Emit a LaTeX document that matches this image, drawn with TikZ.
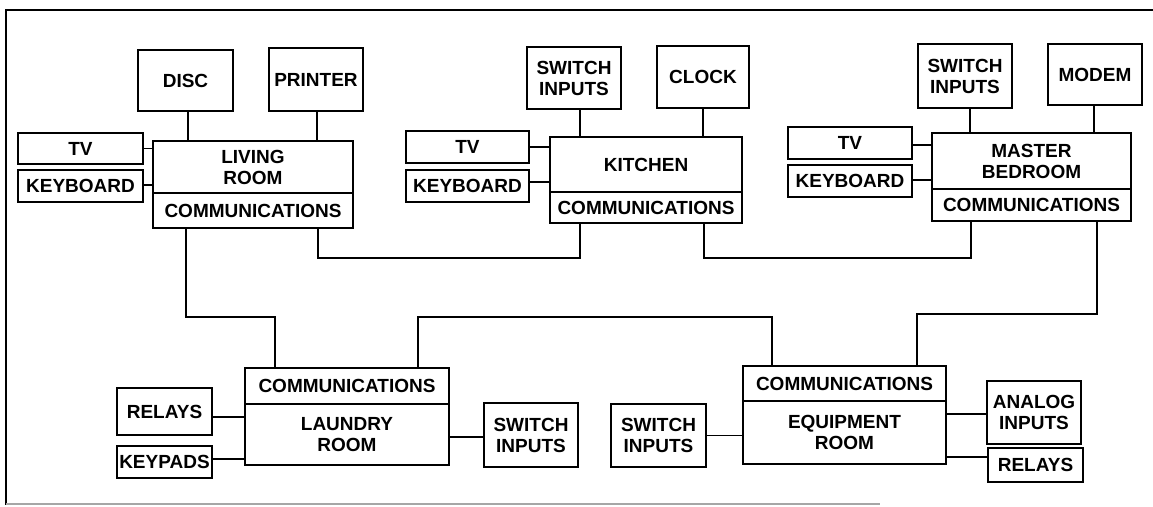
\documentclass[tikz,border=0pt]{standalone}
\usepackage{fontspec}
\setmainfont{Liberation Sans}
\begin{document}
\tikzset{
  box/.style={draw, line width=1.8pt, inner sep=0pt, outer sep=0pt, align=center,
    font=\bfseries\fontsize{19}{21}\selectfont},
  wire/.style={line width=1.8pt},
}
\begin{tikzpicture}[x=1pt,y=-1pt,line join=miter]
\useasboundingbox (0,0) rectangle (1153,506);
% frame
\draw[line width=2.6pt] (1153,10) -- (6,10) -- (6,505);
\draw[line width=1.6pt, black!35] (6,504) -- (880,504);

% ---------------- Living room
\node[box, minimum width=95pt, minimum height=61pt] (disc) at (185.5,80.5) {DISC};
\node[box, minimum width=94pt, minimum height=63pt] (printer) at (316,79.5) {PRINTER};
\node[box, minimum width=125pt, minimum height=31pt] (tv1) at (80.5,148.5) {TV};
\node[box, minimum width=125pt, minimum height=32pt] (kb1) at (80.5,186) {KEYBOARD};
\node[box, minimum width=200pt, minimum height=52pt] (lr) at (253,167) {LIVING\\ROOM};
\node[box, minimum width=200pt, minimum height=35pt] (lrc) at (253,210.5) {COMMUNICATIONS};
\draw[wire] ([xshift=2.5pt]disc.south) -- ([xshift=2.5pt]disc.south |- lr.north);
\draw[wire] ([xshift=1pt]printer.south) -- ([xshift=1pt]printer.south |- lr.north);
\draw[wire] (tv1.east) -- (tv1.east -| lr.west);
\draw[wire] ([yshift=1pt]kb1.east) coordinate (k1) -- (k1 -| lr.west);

% ---------------- Kitchen
\node[box, minimum width=94pt, minimum height=62pt] (sw2) at (574,78) {SWITCH\\INPUTS};
\node[box, minimum width=92pt, minimum height=62pt] (clock) at (703,77) {CLOCK};
\node[box, minimum width=123pt, minimum height=32pt] (tv2) at (467.5,147) {TV};
\node[box, minimum width=123pt, minimum height=32pt] (kb2) at (467.5,186) {KEYBOARD};
\node[box, minimum width=192pt, minimum height=55pt] (kit) at (646,164.5) {KITCHEN};
\node[box, minimum width=192pt, minimum height=31pt] (kitc) at (646,207.5) {COMMUNICATIONS};
\draw[wire] ([xshift=6pt]sw2.south) coordinate (s2) -- (s2 |- kit.north);
\draw[wire] (clock.south) -- (clock.south |- kit.north);
\draw[wire] (tv2.east) -- (tv2.east -| kit.west);
\draw[wire] ([yshift=4pt]kb2.east) coordinate (k2) -- (k2 -| kit.west);

% ---------------- Master bedroom
\node[box, minimum width=94pt, minimum height=64pt] (sw3) at (965,76) {SWITCH\\INPUTS};
\node[box, minimum width=94pt, minimum height=61pt] (modem) at (1095,74.5) {MODEM};
\node[box, minimum width=124pt, minimum height=32pt] (tv3) at (850,143) {TV};
\node[box, minimum width=124pt, minimum height=32pt] (kb3) at (850,181) {KEYBOARD};
\node[box, minimum width=199pt, minimum height=56pt] (mb) at (1031.5,161) {MASTER\\BEDROOM};
\node[box, minimum width=199pt, minimum height=32pt] (mbc) at (1031.5,205) {COMMUNICATIONS};
\draw[wire] ([xshift=5pt]sw3.south) coordinate (s3) -- (s3 |- mb.north);
\draw[wire] ([xshift=-1pt]modem.south) coordinate (m3) -- (m3 |- mb.north);
\draw[wire] ([yshift=-2pt]tv3.east) coordinate (t3) -- (t3 -| mb.west);
\draw[wire] ([yshift=1pt]kb3.east) coordinate (k3) -- (k3 -| mb.west);

% ---------------- Laundry room
\node[box, minimum width=204pt, minimum height=36pt] (lac) at (347,386) {COMMUNICATIONS};
\node[box, minimum width=204pt, minimum height=61pt] (la) at (347,434.5) {LAUNDRY\\ROOM};
\node[box, minimum width=95pt, minimum height=47pt] (rel1) at (164.5,411.5) {RELAYS};
\node[box, minimum width=95pt, minimum height=32pt] (kp) at (164.5,462) {KEYPADS};
\node[box, minimum width=94pt, minimum height=64pt] (sw4) at (531,435) {SWITCH\\INPUTS};
\draw[wire] ([yshift=-5.5pt]rel1.east) coordinate (r1) -- (r1 -| la.west);
\draw[wire] ([yshift=3pt]kp.east) coordinate (p1) -- (p1 -| la.west);
\draw[wire] ([yshift=-2pt]sw4.west) coordinate (s4) -- (s4 -| la.east);

% ---------------- Equipment room
\node[box, minimum width=203pt, minimum height=35pt] (eqc) at (844.5,383.5) {COMMUNICATIONS};
\node[box, minimum width=203pt, minimum height=63pt] (eq) at (844.5,432.5) {EQUIPMENT\\ROOM};
\node[box, minimum width=95pt, minimum height=63pt] (sw5) at (658.5,435.5) {SWITCH\\INPUTS};
\node[box, minimum width=94pt, minimum height=63pt] (an) at (1034,412.5) {ANALOG\\INPUTS};
\node[box, minimum width=95pt, minimum height=34pt] (rel2) at (1035.5,465) {RELAYS};
\draw[wire] (sw5.east) -- (sw5.east -| eq.west);
\draw[wire] ([yshift=-1.5pt]an.west) coordinate (a5) -- (a5 -| eq.east);
\draw[wire] ([yshift=8pt]rel2.west) coordinate (r5) -- (r5 -| eq.east);

% ---------------- Communication bus
\draw[wire] ([xshift=65pt]lrc.south) -- ++(0,30) -| ([xshift=-66pt]kitc.south);
\draw[wire] ([xshift=58pt]kitc.south) -- ++(0,35) -| ([xshift=-60.5pt]mbc.south);
\draw[wire] ([xshift=-67pt]lrc.south) -- ++(0,89) -| ([xshift=-72pt]lac.north);
\draw[wire] ([xshift=71pt]lac.north) -- ++(0,-51) -| ([xshift=-72.5pt]eqc.north);
\draw[wire] ([xshift=72.5pt]eqc.north) -- ++(0,-52) -| ([xshift=65.5pt]mbc.south);
\end{tikzpicture}
\end{document}
